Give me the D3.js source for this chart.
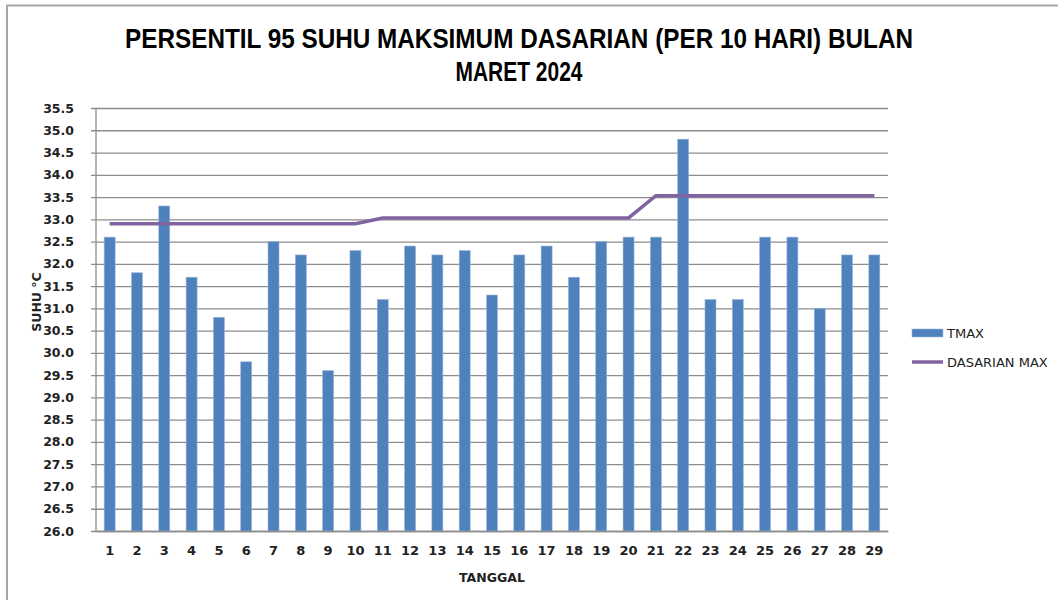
<!DOCTYPE html>
<html>
<head>
<meta charset="utf-8">
<script src="https://cdn.jsdelivr.net/npm/d3@7"></script>
<style>
  body { margin: 0; background: #fff; }
  svg { display: block; }
</style>
</head>
<body>
<div id="chart"></div>
<script>
// data
const days = d3.range(1, 30).map(String);
const tmax = [32.6, 31.8, 33.3, 31.7, 30.8, 29.8, 32.5, 32.2, 29.6, 32.3,
              31.2, 32.4, 32.2, 32.3, 31.3, 32.2, 32.4, 31.7, 32.5, 32.6,
              32.6, 34.8, 31.2, 31.2, 32.6, 32.6, 31.0, 32.2, 32.2];
const dasarianMax = [32.9, 32.9, 32.9, 32.9, 32.9, 32.9, 32.9, 32.9, 32.9, 32.9,
                     33.03, 33.03, 33.03, 33.03, 33.03, 33.03, 33.03, 33.03, 33.03, 33.03,
                     33.53, 33.53, 33.53, 33.53, 33.53, 33.53, 33.53, 33.53, 33.53];
const yTicks = d3.range(26, 35.51, 0.5);
const seriesNames = ["TMAX", "DASARIAN MAX"];

const W = 1058, H = 600;
const margin = { top: 108, right: 170, bottom: 69, left: 96 };
const width = W - margin.left - margin.right;
const height = H - margin.top - margin.bottom;

const barColor = "#4F81BD", lineColor = "#8064A2", gridColor = "#8c8c8c";
const labelFont = "'DejaVu Sans', sans-serif";

const svg = d3.select("#chart").append("svg")
    .attr("width", W)
    .attr("height", H);

// outer chart border
svg.append("path")
    .attr("d", "M7,600 V5.5 H1058")
    .attr("fill", "none")
    .attr("stroke", "#a6a6a6")
    .attr("stroke-width", 2);

// title
const title = svg.append("text")
    .attr("text-anchor", "middle")
    .attr("font-family", "'Liberation Sans Narrow', 'Liberation Sans', sans-serif")
    .attr("font-weight", "bold")
    .attr("font-size", 28.5)
    .attr("fill", "#000");
title.append("tspan")
    .attr("x", 519).attr("y", 48)
    .attr("textLength", 788).attr("lengthAdjust", "spacingAndGlyphs")
    .text("PERSENTIL 95 SUHU MAKSIMUM DASARIAN (PER 10 HARI) BULAN");
title.append("tspan")
    .attr("x", 519).attr("y", 81)
    .attr("textLength", 127).attr("lengthAdjust", "spacingAndGlyphs")
    .text("MARET 2024");

const g = svg.append("g")
    .attr("transform", "translate(" + margin.left + "," + margin.top + ")");

const xc = d3.scaleBand().domain(days).range([0, width]);
const y = d3.scaleLinear().domain([26, 35.5]).range([height, 0]);

// gridlines + y axis
const yAxis = g.append("g")
    .call(d3.axisLeft(y).tickValues(yTicks).tickFormat(d3.format(".1f"))
        .tickSize(-width).tickPadding(22));
yAxis.select(".domain").remove();
yAxis.selectAll(".tick line")
    .attr("x1", -5)
    .attr("stroke", gridColor)
    .attr("stroke-width", 1.3);
yAxis.selectAll(".tick text")
    .attr("font-family", labelFont)
    .attr("font-weight", "bold")
    .attr("font-size", 12.5)
    .attr("fill", "#222");

g.append("line")
    .attr("x1", 0).attr("x2", 0).attr("y1", 0).attr("y2", height)
    .attr("stroke", gridColor).attr("stroke-width", 1.3);

// bars
g.selectAll("rect.bar")
    .data(tmax)
    .join("rect")
    .attr("class", "bar")
    .attr("x", (d, i) => xc(days[i]) + xc.bandwidth() / 2 - 5.5)
    .attr("width", 11)
    .attr("y", d => y(d))
    .attr("height", d => height - y(d))
    .attr("fill", barColor)
    .attr("stroke", "#9bb7dc")
    .attr("stroke-width", 0.6);

// x axis
const xAxis = g.append("g")
    .attr("transform", "translate(0," + height + ")")
    .call(d3.axisBottom(xc).tickSize(0).tickPadding(15));
xAxis.select(".domain")
    .attr("stroke", gridColor).attr("stroke-width", 1.3);
xAxis.selectAll(".tick text")
    .attr("font-family", labelFont)
    .attr("font-weight", "bold")
    .attr("font-size", 13)
    .attr("fill", "#222");

// dasarian line
const line = d3.line()
    .x((d, i) => xc(days[i]) + xc.bandwidth() / 2)
    .y(d => y(d));
g.append("path")
    .datum(dasarianMax)
    .attr("d", line)
    .attr("fill", "none")
    .attr("stroke", lineColor)
    .attr("stroke-width", 3.5);

// axis titles
svg.append("text")
    .attr("transform", "translate(41,302) rotate(-90)")
    .attr("text-anchor", "middle")
    .attr("font-family", labelFont)
    .attr("font-weight", "bold")
    .attr("font-size", 12.5)
    .attr("fill", "#222")
    .text("SUHU °C");

svg.append("text")
    .attr("x", 492).attr("y", 582)
    .attr("text-anchor", "middle")
    .attr("font-family", labelFont)
    .attr("font-weight", "bold")
    .attr("font-size", 12.5)
    .attr("fill", "#222")
    .text("TANGGAL");

// legend
const legend = svg.append("g").attr("transform", "translate(912,333)");
legend.append("rect")
    .attr("x", 0).attr("y", -4).attr("width", 31).attr("height", 8)
    .attr("fill", barColor).attr("stroke", "#9bb7dc").attr("stroke-width", 0.6);
legend.append("line")
    .attr("x1", 0).attr("x2", 31).attr("y1", 29).attr("y2", 29)
    .attr("stroke", lineColor).attr("stroke-width", 3.5);
legend.selectAll("text.leg")
    .data(seriesNames)
    .join("text")
    .attr("class", "leg")
    .attr("x", 35)
    .attr("y", (d, i) => i * 29 + 5)
    .attr("font-family", labelFont)
    .attr("font-size", 13)
    .attr("fill", "#222")
    .text(d => d);
</script>
</body>
</html>
